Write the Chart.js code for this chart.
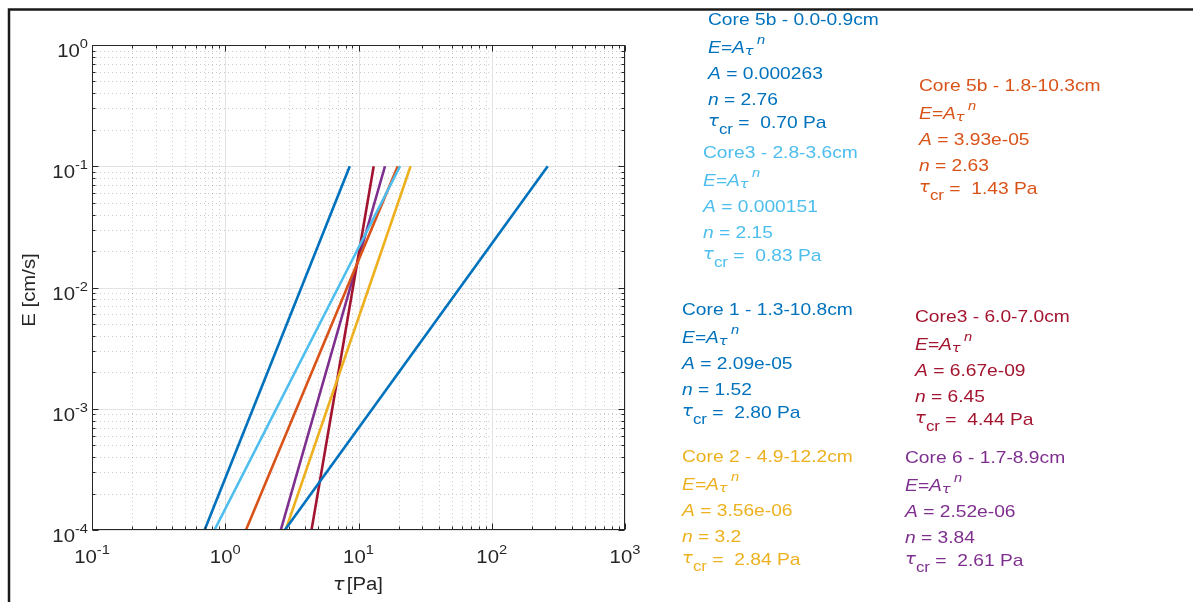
<!DOCTYPE html>
<html>
<head>
<meta charset="utf-8">
<script src="https://cdn.jsdelivr.net/npm/chart.js"></script>
<style>
  body { margin: 0; background: #fff; }
  canvas { display: block; }
</style>
</head>
<body>
<canvas id="myChart" width="1193" height="602"></canvas>
<script>
// curve names and colours
var cores = [
    'Core 5b - 0.0-0.9cm',
    'Core3 - 2.8-3.6cm',
    'Core 5b - 1.8-10.3cm',
    'Core 1 - 1.3-10.8cm',
    'Core 2 - 4.9-12.2cm',
    'Core3 - 6.0-7.0cm',
    'Core 6 - 1.7-8.9cm'
];
var colors = ['#0072BD', '#4DBEEE', '#D95319', '#0072BD', '#EDB120', '#A2142F', '#7E2F8E'];
// fit parameters as printed in the figure
var paramA = ['0.000263', '0.000151', '3.93e-05', '2.09e-05', '3.56e-06', '6.67e-09', '2.52e-06'];
var paramN = ['2.76', '2.15', '2.63', '1.52', '3.2', '6.45', '3.84'];
var tauCr = ['0.70', '0.83', '1.43', '2.80', '2.84', '4.44', '2.61'];
// line ends: tau [Pa] at E = 1e-4 and at E = 0.1
var eLow = 1e-4;
var eHigh = 0.1;
var tauLow = [0.70, 0.83, 1.43, 2.80, 2.84, 4.44, 2.61];
var tauHigh = [8.6, 20.5, 19.7, 263, 24.6, 13.0, 15.8];
// tick labels (powers of ten)
var xExps = [-1, 0, 1, 2, 3];
var yExps = [-4, -3, -2, -1, 0];

// where each text block sits (x, title baseline)
var boxPos = [[708, 25], [703, 158], [919, 91], [682, 315], [682, 462], [915, 322], [905, 463]];

var FONT = '"Liberation Sans", Arial, sans-serif';
var GREEK = '"DejaVu Sans", sans-serif';
var SX = 1.13;

function fontOf(s) {
    return (s.i ? 'italic ' : '') + (s.s || 17) + 'px ' + (s.f || FONT);
}
function rich(ctx, x, y, segs, color) {
    ctx.save();
    ctx.translate(x, y);
    ctx.scale(SX, 1);
    ctx.fillStyle = color;
    ctx.textBaseline = 'alphabetic';
    ctx.textAlign = 'left';
    var cx = 0;
    segs.forEach(function (s) {
        ctx.font = fontOf(s);
        ctx.fillText(s.t, cx, s.dy || 0);
        cx += ctx.measureText(s.t).width + (s.g || 0);
    });
    ctx.restore();
}
function richWidth(ctx, segs) {
    ctx.save();
    var w = 0;
    segs.forEach(function (s) {
        ctx.font = fontOf(s);
        w += ctx.measureText(s.t).width + (s.g || 0);
    });
    ctx.restore();
    return w * SX;
}

var decor = {
    id: 'decor',
    beforeDraw: function (chart) {
        var ctx = chart.ctx;
        ctx.save();
        ctx.fillStyle = '#fff';
        ctx.fillRect(0, 0, chart.width, chart.height);
        // outer frame of the figure
        ctx.strokeStyle = '#1a1a1a';
        ctx.lineWidth = 2.5;
        ctx.beginPath();
        ctx.moveTo(9, 602);
        ctx.lineTo(9, 9.5);
        ctx.lineTo(1193, 9.5);
        ctx.stroke();
        ctx.restore();
    },
    beforeDatasetsDraw: function (chart) {
        var ctx = chart.ctx, a = chart.chartArea;
        var xs = chart.scales.x, ys = chart.scales.y;
        ctx.save();
        ctx.lineWidth = 1;
        // minor grid (dotted)
        ctx.strokeStyle = 'rgba(0,0,0,0.2)';
        ctx.setLineDash([1, 3]);
        ctx.beginPath();
        for (var i = 0; i < xExps.length - 1; i++) {
            for (var m = 2; m <= 9; m++) {
                var px = Math.round(xs.getPixelForValue(m * Math.pow(10, xExps[i]))) + 0.5;
                ctx.moveTo(px, a.top); ctx.lineTo(px, a.bottom);
            }
        }
        for (var j = 0; j < yExps.length - 1; j++) {
            for (var k = 2; k <= 9; k++) {
                var py = Math.round(ys.getPixelForValue(k * Math.pow(10, yExps[j]))) + 0.5;
                ctx.moveTo(a.left, py); ctx.lineTo(a.right, py);
            }
        }
        ctx.stroke();
        // major grid (solid)
        ctx.setLineDash([]);
        ctx.strokeStyle = '#e3e3e3';
        ctx.beginPath();
        xExps.forEach(function (e) {
            var px = Math.round(xs.getPixelForValue(Math.pow(10, e))) + 0.5;
            ctx.moveTo(px, a.top); ctx.lineTo(px, a.bottom);
        });
        yExps.forEach(function (e) {
            var py = Math.round(ys.getPixelForValue(Math.pow(10, e))) + 0.5;
            ctx.moveTo(a.left, py); ctx.lineTo(a.right, py);
        });
        ctx.stroke();
        ctx.restore();
    },
    afterDatasetsDraw: function (chart) {
        var ctx = chart.ctx, a = chart.chartArea;
        var xs = chart.scales.x, ys = chart.scales.y;
        var L = Math.round(a.left) + 0.5, R = Math.round(a.right) - 0.5;
        var T = Math.round(a.top) + 0.5, B = Math.round(a.bottom) - 0.5;
        ctx.save();
        ctx.strokeStyle = '#262626';
        ctx.lineWidth = 1;
        ctx.strokeRect(L, T, R - L, B - T);
        // ticks, pointing inwards on all four sides
        ctx.beginPath();
        for (var i = 0; i < xExps.length; i++) {
            for (var m = 1; m <= 9; m++) {
                if (i === xExps.length - 1 && m > 1) break;
                var len = m === 1 ? 6 : 3;
                var px = Math.round(xs.getPixelForValue(m * Math.pow(10, xExps[i]))) + 0.5;
                ctx.moveTo(px, B); ctx.lineTo(px, B - len);
                ctx.moveTo(px, T); ctx.lineTo(px, T + len);
            }
        }
        for (var j = 0; j < yExps.length; j++) {
            for (var k = 1; k <= 9; k++) {
                if (j === yExps.length - 1 && k > 1) break;
                var l2 = k === 1 ? 6 : 3;
                var py = Math.round(ys.getPixelForValue(k * Math.pow(10, yExps[j]))) + 0.5;
                ctx.moveTo(L, py); ctx.lineTo(L + l2, py);
                ctx.moveTo(R, py); ctx.lineTo(R - l2, py);
            }
        }
        ctx.stroke();
        ctx.restore();

        var tickCol = '#262626';
        // x tick labels
        xExps.forEach(function (e) {
            var segs = [{ t: '10', s: 18 }, { t: String(e), s: 13, dy: -9 }];
            var w = richWidth(ctx, segs);
            var px = xs.getPixelForValue(Math.pow(10, e));
            rich(ctx, px - w / 2, 563, segs, tickCol);
        });
        // y tick labels
        yExps.forEach(function (e) {
            var segs = [{ t: '10', s: 18 }, { t: String(e), s: 13, dy: -9 }];
            var w = richWidth(ctx, segs);
            var py = ys.getPixelForValue(Math.pow(10, e));
            rich(ctx, 88 - w, py + 12, segs, tickCol);
        });
        // axis titles
        var xt = [{ t: '\u03C4', s: 17, i: true, f: GREEK, g: 2 }, { t: '[Pa]', s: 18 }];
        rich(ctx, 358 - richWidth(ctx, xt) / 2, 590, xt, tickCol);
        ctx.save();
        ctx.translate(35, 290);
        ctx.rotate(-Math.PI / 2);
        var yt = [{ t: 'E [cm/s]', s: 18 }];
        rich(ctx, -richWidth(ctx, yt) / 2, 0, yt, tickCol);
        ctx.restore();

        // fit annotations
        cores.forEach(function (name, i) {
            var x = boxPos[i][0], y = boxPos[i][1], c = colors[i];
            rich(ctx, x, y, [{ t: name }], c);
            rich(ctx, x, y + 28, [
                { t: 'E=A', i: true },
                { t: '\u03C4', i: true, f: GREEK, s: 13, dy: 2, g: 3 },
                { t: 'n', i: true, s: 13, dy: -9 }
            ], c);
            rich(ctx, x, y + 54, [{ t: 'A', i: true }, { t: ' = ' + paramA[i] }], c);
            rich(ctx, x, y + 80, [{ t: 'n', i: true }, { t: ' = ' + paramN[i] }], c);
            rich(ctx, x, y + 103, [
                { t: '\u03C4', i: true, f: GREEK, s: 16, dy: -2 },
                { t: 'cr', s: 15, dy: 6 },
                { t: ' =  ' + tauCr[i] + ' Pa' }
            ], c);
        });
    }
};

var datasets = cores.map(function (name, i) {
    return {
        label: name,
        data: [{ x: tauLow[i], y: eLow }, { x: tauHigh[i], y: eHigh }],
        borderColor: colors[i],
        backgroundColor: colors[i],
        borderWidth: 2.6,
        pointRadius: 0,
        fill: false
    };
});

var ctx = document.getElementById('myChart').getContext('2d');
var myChart = new Chart(ctx, {
    type: 'line',
    data: { datasets: datasets },
    options: {
        responsive: false,
        animation: false,
        layout: { padding: { left: 92, top: 45, right: 568, bottom: 72 } },
        scales: {
            x: { type: 'logarithmic', min: 0.1, max: 1000, display: false },
            y: { type: 'logarithmic', min: 1e-4, max: 1, display: false }
        },
        plugins: {
            legend: { display: false },
            tooltip: { enabled: false }
        }
    },
    plugins: [decor]
});
</script>
</body>
</html>
